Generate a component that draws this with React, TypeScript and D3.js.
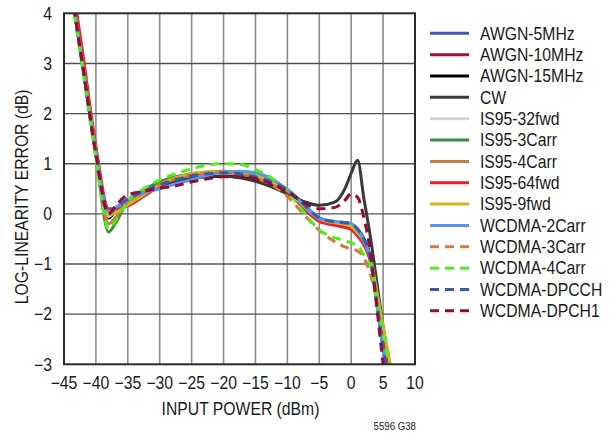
import React from "react";
import * as d3 from "d3";

const X_VALUES = [-44.5, -42, -40, -38, -37, -35, -32.5, -30, -27.5, -25, -22.5, -20, -17.5, -15, -12.5, -10, -7.5, -5, -2.5, -1, 0, 1, 2, 3, 4, 5, 6, 7];

const awgn5 = [5.0, 2.9, 1.2, 0.0, 0.1, 0.3, 0.45, 0.58, 0.68, 0.76, 0.8, 0.82, 0.8, 0.74, 0.64, 0.48, 0.2, -0.08, -0.16, -0.18, -0.2, -0.3, -0.5, -0.88, -1.75, -2.65, -3.5, -4.3];
const awgn10 = [5.0, 2.9, 1.22, -0.05, 0.08, 0.3, 0.45, 0.6, 0.7, 0.77, 0.8, 0.82, 0.8, 0.74, 0.63, 0.47, 0.18, -0.1, -0.18, -0.2, -0.22, -0.33, -0.52, -0.9, -1.75, -2.6, -3.45, -4.3];
const awgn15 = [5.0, 2.9, 1.2, -0.08, 0.05, 0.28, 0.42, 0.56, 0.65, 0.71, 0.74, 0.75, 0.73, 0.68, 0.58, 0.44, 0.16, -0.1, -0.17, -0.19, -0.22, -0.32, -0.5, -0.85, -1.65, -2.5, -3.35, -4.2];
const cw = [5.0, 2.9, 1.2, -0.06, 0.06, 0.28, 0.42, 0.56, 0.66, 0.72, 0.75, 0.75, 0.72, 0.65, 0.54, 0.4, 0.25, 0.17, 0.24, 0.5, 0.81, 1.07, 0.3, -0.45, -1.35, -2.25, -3.15, -4.0];
const is95_32fwd = [5.0, 2.9, 1.2, -0.05, 0.08, 0.3, 0.46, 0.6, 0.7, 0.77, 0.8, 0.82, 0.8, 0.74, 0.63, 0.47, 0.18, -0.1, -0.18, -0.2, -0.23, -0.33, -0.52, -0.9, -1.7, -2.55, -3.4, -4.2];
const is95_3carr = [5.0, 2.9, 1.15, -0.36, -0.2, 0.25, 0.48, 0.64, 0.74, 0.8, 0.83, 0.83, 0.8, 0.74, 0.62, 0.46, 0.16, -0.12, -0.2, -0.22, -0.26, -0.36, -0.55, -0.9, -1.65, -2.45, -3.25, -4.1];
const is95_4carr = [5.0, 2.9, 1.2, -0.2, -0.08, 0.22, 0.42, 0.58, 0.7, 0.78, 0.83, 0.85, 0.83, 0.76, 0.64, 0.48, 0.17, -0.12, -0.2, -0.22, -0.26, -0.36, -0.56, -0.88, -1.55, -2.25, -2.95, -3.7];
const is95_64fwd = [5.3, 3.15, 1.35, 0.1, 0.1, 0.16, 0.35, 0.55, 0.7, 0.78, 0.82, 0.84, 0.82, 0.75, 0.62, 0.45, 0.12, -0.15, -0.23, -0.27, -0.31, -0.44, -0.62, -0.95, -1.65, -2.4, -3.15, -4.0];
const is95_9fwd = [5.0, 2.95, 1.25, -0.02, 0.02, 0.18, 0.38, 0.58, 0.72, 0.8, 0.84, 0.85, 0.83, 0.77, 0.64, 0.47, 0.16, -0.1, -0.18, -0.21, -0.25, -0.38, -0.55, -0.85, -1.55, -2.25, -2.92, -3.6];
const wcdma2carr = [5.0, 2.9, 1.2, 0.04, 0.12, 0.28, 0.42, 0.5, 0.6, 0.68, 0.77, 0.84, 0.85, 0.82, 0.7, 0.48, 0.18, -0.1, -0.15, -0.17, -0.19, -0.33, -0.55, -0.9, -1.8, -2.72, -3.6, -4.5];
const wcdma3carr = [5.0, 2.9, 1.2, -0.22, -0.1, 0.25, 0.44, 0.6, 0.7, 0.78, 0.82, 0.84, 0.8, 0.72, 0.58, 0.35, 0.0, -0.33, -0.56, -0.66, -0.7, -0.74, -0.88, -1.2, -1.7, -2.4, -3.1, -3.8];
const wcdma4carr = [4.9, 2.8, 1.1, -0.3, -0.15, 0.25, 0.5, 0.68, 0.8, 0.9, 0.97, 1.0, 0.99, 0.88, 0.72, 0.46, 0.05, -0.32, -0.48, -0.53, -0.58, -0.63, -0.82, -1.0, -1.7, -2.4, -3.05, -3.7];
const wcdmaDpcch = [5.0, 2.9, 1.2, 0.0, 0.1, 0.3, 0.45, 0.58, 0.68, 0.76, 0.8, 0.82, 0.8, 0.74, 0.64, 0.48, 0.2, -0.08, -0.16, -0.18, -0.2, -0.3, -0.5, -0.88, -1.75, -2.65, -3.5, -4.3];
const wcdmaDpch1 = [5.0, 2.9, 1.2, 0.0, 0.15, 0.38, 0.45, 0.51, 0.56, 0.64, 0.7, 0.74, 0.74, 0.7, 0.6, 0.44, 0.23, 0.1, 0.13, 0.27, 0.4, 0.33, -0.08, -0.75, -1.85, -3.0, -4.1, -5.0];

const SERIES_NAMES = ["AWGN-5MHz", "AWGN-10MHz", "AWGN-15MHz", "CW", "IS95-32fwd", "IS95-3Carr", "IS95-4Carr", "IS95-64fwd", "IS95-9fwd", "WCDMA-2Carr", "WCDMA-3Carr", "WCDMA-4Carr", "WCDMA-DPCCH", "WCDMA-DPCH1"];
const SERIES_VALUES = [awgn5, awgn10, awgn15, cw, is95_32fwd, is95_3carr, is95_4carr, is95_64fwd, is95_9fwd, wcdma2carr, wcdma3carr, wcdma4carr, wcdmaDpcch, wcdmaDpch1];
const SERIES_COLORS = ["#3a5bab", "#a0103c", "#000000", "#3a3a3a", "#d4d4d4", "#3d8b47", "#c27c3e", "#ee1c25", "#cbb81b", "#5595f2", "#d9773d", "#4cf01a", "#3a5bab", "#920d36"];
const SERIES_DASHED = [false, false, false, false, false, false, false, false, false, false, true, true, true, true];

const X_TICKS = [-45, -40, -35, -30, -25, -20, -15, -10, -5, 0, 5, 10];
const Y_TICKS = [4, 3, 2, 1, 0, -1, -2, -3];

const FONT = "'Liberation Sans', Arial, sans-serif";
const FS = 17.5;
const SX = 0.9;

function T(props: { x: number; y: number; anchor?: string; rotate?: number; size?: number; sx?: number; children: React.ReactNode }) {
  const { x, y, anchor = "start", rotate = 0, size = FS, sx = SX, children } = props;
  return (
    <text
      transform={`translate(${x},${y}) rotate(${rotate}) scale(${sx},1)`}
      textAnchor={anchor}
      fontSize={size}
      fill="#1a1a1a"
    >
      {children}
    </text>
  );
}

export default function App() {
  const W = 612, H = 435;
  const left = 64, right = 415, top = 13.3, bottom = 364.3;
  const x = d3.scaleLinear().domain([-45, 10]).range([left, right]);
  const y = d3.scaleLinear().domain([4, -3]).range([top, bottom]);
  const line = d3
    .line<number>()
    .x((_, i) => x(X_VALUES[i]))
    .y((d) => y(d))
    .curve(d3.curveMonotoneX);
  const fmt = (v: number) => (v < 0 ? "\u2212" + Math.abs(v) : String(v));

  const legendX = 430, legendY0 = 33.3, legendStep = 21.35;

  return (
    <svg width={W} height={H} style={{ position: "absolute", left: 0, top: 0, background: "#fff" }} fontFamily={FONT}>
      <defs>
        <clipPath id="plotClip">
          <rect x={left} y={top} width={right - left} height={bottom - top} />
        </clipPath>
      </defs>
      <rect x={0} y={0} width={W} height={H} fill="#fff" />
      {X_TICKS.slice(1, -1).map((t) => (
        <line key={"gx" + t} x1={x(t)} x2={x(t)} y1={top} y2={bottom} stroke="#8c8c8c" strokeWidth={1.6} />
      ))}
      {Y_TICKS.slice(1, -1).map((t) => (
        <line key={"gy" + t} x1={left} x2={right} y1={y(t)} y2={y(t)} stroke="#505050" strokeWidth={1.4} />
      ))}
      <g clipPath="url(#plotClip)">
        {SERIES_VALUES.map((vals, i) => (
          <path
            key={SERIES_NAMES[i]}
            d={line(vals) || ""}
            fill="none"
            stroke={SERIES_COLORS[i]}
            strokeWidth={3}
            strokeDasharray={SERIES_DASHED[i] ? "9,6" : undefined}
            strokeLinejoin="round"
          />
        ))}
      </g>
      <rect x={left} y={top} width={right - left} height={bottom - top} fill="none" stroke="#2a2a2a" strokeWidth={2} />
      {Y_TICKS.map((t) => (
        <T key={"ty" + t} x={52} y={y(t) + 6.3} anchor="end">
          {fmt(t)}
        </T>
      ))}
      {X_TICKS.map((t) => (
        <T key={"tx" + t} x={x(t)} y={388.5} anchor="middle">
          {fmt(t)}
        </T>
      ))}
      <T x={(left + right) / 2 + 1} y={415} anchor="middle">
        INPUT POWER (dBm)
      </T>
      <T x={28} y={(top + bottom) / 2 + 8} anchor="middle" rotate={-90}>
        LOG-LINEARITY ERROR (dB)
      </T>
      <T x={416} y={430} anchor="end" size={10.5} sx={0.92}>
        5596 G38
      </T>
      {SERIES_NAMES.map((name, i) => {
        const ly = legendY0 + i * legendStep;
        return (
          <g key={"lg" + name}>
            <line
              x1={legendX}
              x2={legendX + 39}
              y1={ly}
              y2={ly}
              stroke={SERIES_COLORS[i]}
              strokeWidth={3}
              strokeDasharray={SERIES_DASHED[i] ? "9,6" : undefined}
            />
            <T x={480} y={ly + 6.3}>
              {name}
            </T>
          </g>
        );
      })}
    </svg>
  );
}
